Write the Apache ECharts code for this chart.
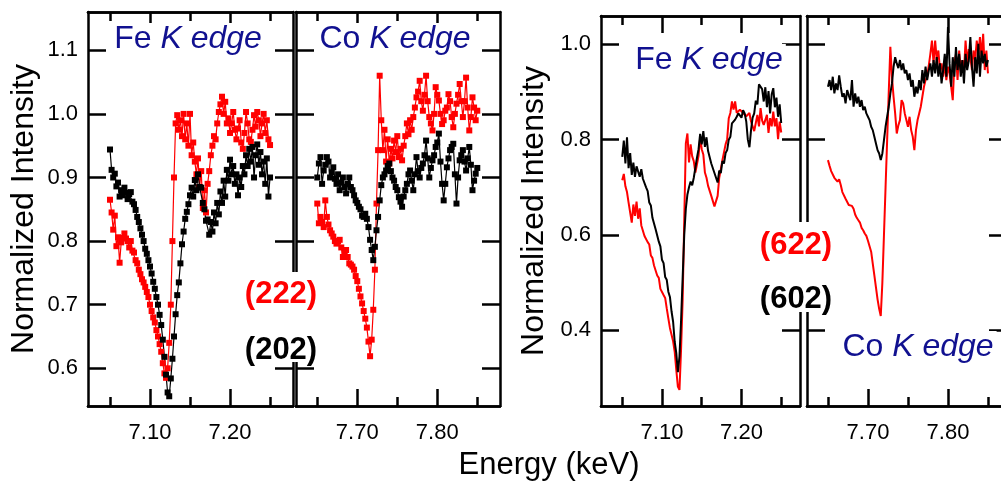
<!DOCTYPE html>
<html>
<head>
<meta charset="utf-8">
<script src="https://cdn.jsdelivr.net/npm/echarts@6/dist/echarts.min.js"></script>
<style>
  html, body { margin: 0; padding: 0; background: #fff; }
  #main { width: 1001px; height: 484px; }
</style>
</head>
<body>
<div id="main"></div>
<script>
// energy grids (keV)
const feEnergy = [
  7.050, 7.052, 7.054, 7.056, 7.058, 7.060, 7.062, 7.064, 7.066, 7.068,
  7.070, 7.072, 7.074, 7.076, 7.078, 7.080, 7.082, 7.084, 7.086, 7.088,
  7.090, 7.092, 7.094, 7.096, 7.098, 7.100, 7.102, 7.104, 7.106, 7.108,
  7.110, 7.112, 7.114, 7.116, 7.118, 7.120, 7.122, 7.124, 7.126, 7.128,
  7.130, 7.132, 7.134, 7.136, 7.138, 7.140, 7.142, 7.144, 7.146, 7.148,
  7.150, 7.152, 7.154, 7.156, 7.158, 7.160, 7.162, 7.164, 7.166, 7.168,
  7.170, 7.172, 7.174, 7.176, 7.178, 7.180, 7.182, 7.184, 7.186, 7.188,
  7.190, 7.192, 7.194, 7.196, 7.198, 7.200, 7.202, 7.204, 7.206, 7.208,
  7.210, 7.212, 7.214, 7.216, 7.218, 7.220, 7.222, 7.224, 7.226, 7.228,
  7.230, 7.232, 7.234, 7.236, 7.238, 7.240, 7.242, 7.244, 7.246, 7.248,
  7.250
]
const coEnergy = [
  7.650, 7.652, 7.654, 7.656, 7.658, 7.660, 7.662, 7.664, 7.666, 7.668,
  7.670, 7.672, 7.674, 7.676, 7.678, 7.680, 7.682, 7.684, 7.686, 7.688,
  7.690, 7.692, 7.694, 7.696, 7.698, 7.700, 7.702, 7.704, 7.706, 7.708,
  7.710, 7.712, 7.714, 7.716, 7.718, 7.720, 7.722, 7.724, 7.726, 7.728,
  7.730, 7.732, 7.734, 7.736, 7.738, 7.740, 7.742, 7.744, 7.746, 7.748,
  7.750, 7.752, 7.754, 7.756, 7.758, 7.760, 7.762, 7.764, 7.766, 7.768,
  7.770, 7.772, 7.774, 7.776, 7.778, 7.780, 7.782, 7.784, 7.786, 7.788,
  7.790, 7.792, 7.794, 7.796, 7.798, 7.800, 7.802, 7.804, 7.806, 7.808,
  7.810, 7.812, 7.814, 7.816, 7.818, 7.820, 7.822, 7.824, 7.826, 7.828,
  7.830, 7.832, 7.834, 7.836, 7.838, 7.840, 7.842, 7.844, 7.846, 7.848,
  7.850
]

// (222) / (202) film, Fe K edge
const fe222 = [
  0.865, 0.845, 0.818, 0.840, 0.792, 0.806, 0.766, 0.798, 0.805, 0.812, 0.804,
  0.800, 0.790, 0.800, 0.785, 0.782, 0.770, 0.765, 0.755, 0.748, 0.740,
  0.735, 0.728, 0.720, 0.712, 0.700, 0.690, 0.680, 0.672, 0.660, 0.650,
  0.638, 0.626, 0.608, 0.592, 0.585, 0.600, 0.640, 0.700, 0.800, 0.900,
  0.985, 0.998, 0.975, 0.990, 0.965, 1.000, 0.960, 0.985, 0.950, 1.000,
  0.935, 0.955, 0.925, 0.905, 0.930, 0.885, 0.910, 0.852, 0.880, 0.845,
  0.890, 0.910, 0.935, 0.950, 0.965, 0.960, 0.985, 1.003, 1.015, 1.027,
  1.000, 1.019, 0.985, 0.993, 0.970, 0.985, 1.003, 0.975, 0.960, 0.977,
  0.990, 0.955, 0.945, 0.970, 1.003, 0.985, 0.960, 0.956, 0.975, 0.998,
  0.980, 1.003, 0.990, 0.965, 0.985, 1.000, 0.970, 0.990, 0.960, 0.951
]
const fe202 = [
  0.944, 0.912, 0.900, 0.906, 0.886, 0.892, 0.870, 0.880, 0.872, 0.884, 0.876,
  0.866, 0.874, 0.877, 0.862, 0.858, 0.849, 0.838, 0.830, 0.820, 0.810,
  0.800, 0.788, 0.780, 0.770, 0.760, 0.749, 0.736, 0.725, 0.712, 0.700,
  0.684, 0.668, 0.645, 0.618, 0.590, 0.562, 0.556, 0.584, 0.615, 0.650,
  0.685, 0.715, 0.735, 0.765, 0.795, 0.815, 0.835, 0.846, 0.858, 0.872,
  0.884, 0.870, 0.896, 0.880, 0.905, 0.885, 0.884, 0.860, 0.850, 0.832,
  0.834, 0.810, 0.830, 0.815, 0.845, 0.828, 0.860, 0.842, 0.878, 0.860,
  0.895, 0.870, 0.912, 0.895, 0.928, 0.905, 0.918, 0.890, 0.905, 0.872,
  0.900, 0.885, 0.918, 0.905, 0.935, 0.918, 0.945, 0.925, 0.948, 0.900,
  0.935, 0.952, 0.920, 0.940, 0.905, 0.925, 0.890, 0.930, 0.870, 0.900
]
// (222) / (202) film, Co K edge
const co222 = [
  0.859, 0.828, 0.838, 0.830, 0.822, 0.864, 0.838, 0.826, 0.817, 0.812,
  0.807, 0.800, 0.796, 0.800, 0.802, 0.790, 0.775, 0.782, 0.786, 0.775,
  0.765, 0.763, 0.760, 0.755, 0.745, 0.737, 0.725, 0.713, 0.702, 0.690,
  0.678, 0.664, 0.642, 0.619, 0.645, 0.692, 0.755, 0.859, 0.943, 1.060,
  0.990, 0.943, 0.975, 0.925, 0.960, 0.922, 0.945, 0.930, 0.958, 0.940,
  0.965, 0.932, 0.945, 0.927, 0.950, 0.965, 0.985, 0.968, 0.990, 0.975,
  0.995, 1.010, 1.026, 1.035, 1.052, 1.020, 1.005, 1.030, 1.060, 1.020,
  0.995, 0.985, 0.974, 1.000, 1.042, 1.030, 1.021, 1.000, 0.984, 0.990,
  1.005, 1.010, 1.031, 1.020, 0.995, 0.979, 1.000, 1.016, 1.030, 1.047,
  1.020, 0.995, 1.020, 1.057, 1.010, 0.974, 0.995, 1.026, 1.010, 0.990,
  1.005
]
const co202 = [
  0.900, 0.922, 0.932, 0.890, 0.911, 0.920, 0.932, 0.925, 0.900, 0.908,
  0.916, 0.898, 0.890, 0.905, 0.880, 0.892, 0.900, 0.885, 0.875, 0.890,
  0.900, 0.885, 0.880, 0.872, 0.864, 0.860, 0.854, 0.850, 0.840, 0.838,
  0.843, 0.835, 0.822, 0.802, 0.786, 0.770, 0.791, 0.817, 0.838, 0.864,
  0.888, 0.900, 0.905, 0.911, 0.918, 0.922, 0.910, 0.900, 0.895, 0.885,
  0.880, 0.869, 0.862, 0.854, 0.870, 0.880, 0.890, 0.905, 0.911, 0.895,
  0.880, 0.905, 0.932, 0.910, 0.900, 0.915, 0.922, 0.935, 0.958, 0.930,
  0.900, 0.915, 0.927, 0.935, 0.948, 0.955, 0.969, 0.925, 0.890, 0.864,
  0.890, 0.916, 0.930, 0.943, 0.948, 0.953, 0.905, 0.859, 0.900, 0.927,
  0.935, 0.943, 0.925, 0.911, 0.930, 0.948, 0.920, 0.880, 0.895, 0.906,
  0.915
]
// (622) / (602) film, Fe K edge
const fe622 = [
  0.715, 0.728, 0.702, 0.690, 0.668, 0.664, 0.626, 0.664, 0.640, 0.670,
  0.634, 0.656, 0.620, 0.622, 0.598, 0.600, 0.585, 0.580, 0.557, 0.552,
  0.536, 0.538, 0.515, 0.510, 0.487, 0.489, 0.474, 0.468, 0.446, 0.425,
  0.405, 0.404, 0.377, 0.355, 0.317, 0.282, 0.275, 0.360, 0.464, 0.631,
  0.792, 0.813, 0.752, 0.790, 0.765, 0.755, 0.731, 0.748, 0.766, 0.804,
  0.780, 0.769, 0.731, 0.720, 0.703, 0.706, 0.682, 0.685, 0.660, 0.657,
  0.682, 0.720, 0.738, 0.757, 0.759, 0.790, 0.801, 0.845, 0.856, 0.880,
  0.863, 0.880, 0.856, 0.852, 0.863, 0.859, 0.856, 0.852, 0.849, 0.845,
  0.856, 0.838, 0.835, 0.818, 0.821, 0.852, 0.828, 0.866, 0.840, 0.831,
  0.835, 0.852, 0.814, 0.845, 0.828, 0.859, 0.828, 0.845, 0.801, 0.838,
  0.815
]
const fe602 = [
  0.764, 0.798, 0.750, 0.805, 0.740, 0.772, 0.726, 0.752, 0.722, 0.744,
  0.746, 0.722, 0.738, 0.718, 0.720, 0.700, 0.692, 0.668, 0.662, 0.636,
  0.634, 0.612, 0.610, 0.586, 0.576, 0.548, 0.541, 0.512, 0.506, 0.481,
  0.470, 0.440, 0.418, 0.376, 0.352, 0.312, 0.345, 0.420, 0.510, 0.600,
  0.655, 0.685, 0.700, 0.712, 0.704, 0.720, 0.722, 0.762, 0.780, 0.812,
  0.790, 0.818, 0.785, 0.805, 0.776, 0.776, 0.750, 0.748, 0.730, 0.734,
  0.710, 0.735, 0.730, 0.755, 0.750, 0.772, 0.778, 0.800, 0.806, 0.834,
  0.832, 0.842, 0.848, 0.855, 0.852, 0.846, 0.862, 0.855, 0.838, 0.800,
  0.784, 0.820, 0.846, 0.855, 0.882, 0.874, 0.916, 0.915, 0.906, 0.880,
  0.910, 0.868, 0.902, 0.855, 0.895, 0.908, 0.868, 0.888, 0.848, 0.874,
  0.835
]
// (622) / (602) film, Co K edge
const co622 = [
  0.757, 0.745, 0.734, 0.738, 0.720, 0.724, 0.712, 0.717, 0.705, 0.690,
  0.690, 0.676, 0.677, 0.663, 0.662, 0.661, 0.655, 0.643, 0.636, 0.631,
  0.626, 0.615, 0.610, 0.603, 0.598, 0.588, 0.585, 0.565, 0.540, 0.515,
  0.490, 0.465, 0.445, 0.430, 0.500, 0.600, 0.700, 0.800, 0.900, 0.995,
  0.932, 0.890, 0.855, 0.813, 0.830, 0.841, 0.883, 0.876, 0.855, 0.841,
  0.827, 0.848, 0.820, 0.806, 0.778, 0.820, 0.841, 0.855, 0.869, 0.890,
  0.911, 0.925, 0.932, 0.955, 0.980, 1.008, 0.960, 1.008, 0.967, 0.987,
  0.946, 0.960, 0.932, 0.960, 0.925, 0.953, 0.939, 0.911, 0.883, 0.960,
  0.980, 0.925, 0.987, 0.946, 0.967, 0.939, 1.008, 0.960, 0.990, 0.973,
  0.946, 0.987, 0.967, 1.008, 0.980, 1.015, 0.973, 1.022, 0.946, 0.987,
  0.939
]
const co602 = [
  0.911, 0.925, 0.904, 0.932, 0.897, 0.918, 0.904, 0.935, 0.911, 0.890,
  0.897, 0.876, 0.904, 0.893, 0.883, 0.925, 0.869, 0.897, 0.876, 0.890,
  0.869, 0.883, 0.862, 0.869, 0.855, 0.848, 0.841, 0.827, 0.820, 0.806,
  0.792, 0.778, 0.771, 0.757, 0.771, 0.799, 0.827, 0.848, 0.869, 0.897,
  0.918, 0.953, 0.973, 0.960, 0.950, 0.967, 0.946, 0.960, 0.939, 0.946,
  0.925, 0.939, 0.911, 0.925, 0.890, 0.911, 0.897, 0.925, 0.904, 0.946,
  0.918, 0.953, 0.925, 0.945, 0.960, 0.932, 0.967, 0.939, 0.973, 0.932,
  0.960, 0.918, 0.946, 0.980, 0.932, 1.036, 0.960, 0.911, 0.973, 0.932,
  0.994, 0.946, 0.980, 0.932, 0.967, 0.918, 0.980, 0.946, 0.965, 1.015,
  0.953, 0.911, 0.973, 0.939, 1.001, 0.932, 0.987, 0.960, 0.980, 0.953,
  0.967
]

// tick positions
const feMajor = [7.10, 7.20]
const feMinor = [7.05, 7.15, 7.25]
const coMajor = [7.70, 7.80]
const coMinor = [7.65, 7.75, 7.85]
const yTicksLeft = [0.6, 0.7, 0.8, 0.9, 1.0, 1.1]
const yTicksRight = [0.4, 0.6, 0.8, 1.0]

const FONT = 'Liberation Sans'
const RED = '#ff0000'
const BLACK = '#000000'
const NAVY = '#111190'

const lineStyle = { color: '#000', width: 2.5 }
const tick = (len, values) => ({ inside: true, length: len, customValues: values, lineStyle: lineStyle })
const labelFont = { fontSize: 22, color: '#000', fontFamily: FONT }

function xAxes(g, range, major, minor) {
  const base = {
    type: 'value', gridIndex: g, min: range[0], max: range[1],
    splitLine: { show: false },
    axisLine: { onZero: false, lineStyle: lineStyle }
  }
  return [
    Object.assign({}, base, { position: 'bottom', axisTick: tick(17, major),
      axisLabel: Object.assign({ customValues: major, margin: 16, formatter: v => v.toFixed(2) }, labelFont) }),
    Object.assign({}, base, { position: 'bottom', axisTick: tick(9, minor), axisLabel: { show: false } }),
    Object.assign({}, base, { position: 'top', axisTick: tick(17, major), axisLabel: { show: false } }),
    Object.assign({}, base, { position: 'top', axisTick: tick(9, minor), axisLabel: { show: false } })
  ]
}

function yAxes(g, range, ticks, withLabels) {
  const base = {
    type: 'value', gridIndex: g, min: range[0], max: range[1],
    splitLine: { show: false },
    axisLine: { onZero: false, lineStyle: lineStyle },
    axisTick: tick(18, ticks)
  }
  return [
    Object.assign({}, base, { position: 'left',
      axisLabel: withLabels
        ? Object.assign({ customValues: ticks, margin: 10, formatter: v => v.toFixed(1) }, labelFont)
        : { show: false } }),
    Object.assign({}, base, { position: 'right', axisLabel: { show: false } })
  ]
}

function pairs(xs, ys) {
  return xs.map((x, i) => [x, ys[i]])
}

function markerSeries(g, xs, ys, color) {
  return {
    type: 'line', xAxisIndex: g * 4, yAxisIndex: g * 2,
    data: pairs(xs, ys),
    symbol: 'rect', symbolSize: 6,
    itemStyle: { color: color },
    lineStyle: { color: color, width: 1.2 },
    silent: true, animation: false
  }
}

function plainSeries(g, xs, ys, color) {
  return {
    type: 'line', xAxisIndex: g * 4, yAxisIndex: g * 2,
    data: pairs(xs, ys),
    showSymbol: false,
    lineStyle: { color: color, width: 2 },
    silent: true, animation: false
  }
}

function label(x, y, text, opts) {
  return {
    type: 'text', x: x, y: y, z: 100, rotation: opts.rotation || 0,
    style: {
      text: text,
      rich: opts.rich,
      fontSize: opts.size, fontFamily: FONT,
      fontWeight: opts.weight || 'normal',
      fill: opts.color || '#000',
      textAlign: 'center', textVerticalAlign: 'middle',
      backgroundColor: opts.bg,
      padding: opts.padding
    }
  }
}

// white patch behind the (hkl) labels, breaking the panel divider
function patch(x, y, w, h) {
  return { type: 'rect', z: 90, shape: { x: x, y: y, width: w, height: h }, style: { fill: '#fff' } }
}

const edgeRich = {
  n: { fontSize: 32, fontFamily: FONT, fill: NAVY },
  i: { fontSize: 32, fontFamily: FONT, fill: NAVY, fontStyle: 'italic' }
}

const leftY = [0.5407, 1.1602]
const rightY = [0.2412, 1.0594]

const option = {
  backgroundColor: '#fff',
  animation: false,
  grid: [
    { left: 88, top: 12, width: 205, height: 394, outerBoundsMode: 'none' },
    { left: 296, top: 12, width: 204, height: 394, outerBoundsMode: 'none' },
    { left: 601, top: 16, width: 199, height: 390, outerBoundsMode: 'none' },
    { left: 807, top: 16, width: 200, height: 390, outerBoundsMode: 'none' }
  ],
  xAxis: [].concat(
    xAxes(0, [7.0225, 7.2787], feMajor, feMinor),
    xAxes(1, [7.6234, 7.8784], coMajor, coMinor),
    xAxes(2, [7.0233, 7.2736], feMajor, feMinor),
    xAxes(3, [7.6238, 7.8738], coMajor, coMinor)
  ),
  yAxis: [].concat(
    yAxes(0, leftY, yTicksLeft, true),
    yAxes(1, leftY, yTicksLeft, false),
    yAxes(2, rightY, yTicksRight, true),
    yAxes(3, rightY, yTicksRight, false)
  ),
  series: [
    markerSeries(0, feEnergy, fe222, RED),
    markerSeries(0, feEnergy, fe202, BLACK),
    markerSeries(1, coEnergy, co222, RED),
    markerSeries(1, coEnergy, co202, BLACK),
    plainSeries(2, feEnergy, fe622, RED),
    plainSeries(2, feEnergy, fe602, BLACK),
    plainSeries(3, coEnergy, co622, RED),
    plainSeries(3, coEnergy, co602, BLACK)
  ],
  graphic: { elements: [
    patch(243, 272, 77, 90),
    patch(757, 222, 78, 90),
    label(188, 39, '{n|Fe }{i|K edge}', { size: 32, rich: edgeRich, bg: '#fff', padding: [0, 3] }),
    label(395, 39, '{n|Co }{i|K edge}', { size: 32, rich: edgeRich, bg: '#fff', padding: [0, 3] }),
    label(709, 60, '{n|Fe }{i|K edge}', { size: 32, rich: edgeRich, bg: '#fff', padding: [0, 3] }),
    label(918, 347, '{n|Co }{i|K edge}', { size: 32, rich: edgeRich, bg: '#fff', padding: [0, 3] }),
    label(281, 294, '(222)', { size: 31, weight: 'bold', color: RED }),
    label(281, 350, '(202)', { size: 31, weight: 'bold', color: BLACK }),
    label(796, 245, '(622)', { size: 31, weight: 'bold', color: RED }),
    label(796, 299, '(602)', { size: 31, weight: 'bold', color: BLACK }),
    label(24, 209, 'Normalized Intensity', { size: 32, rotation: Math.PI / 2 }),
    label(534, 211, 'Normalized Intensity', { size: 32, rotation: Math.PI / 2 }),
    label(549, 465, 'Energy (keV)', { size: 31 })
  ] }
}

const chart = echarts.init(document.getElementById('main'), null, { renderer: 'canvas' })
chart.setOption(option)
</script>
</body>
</html>
